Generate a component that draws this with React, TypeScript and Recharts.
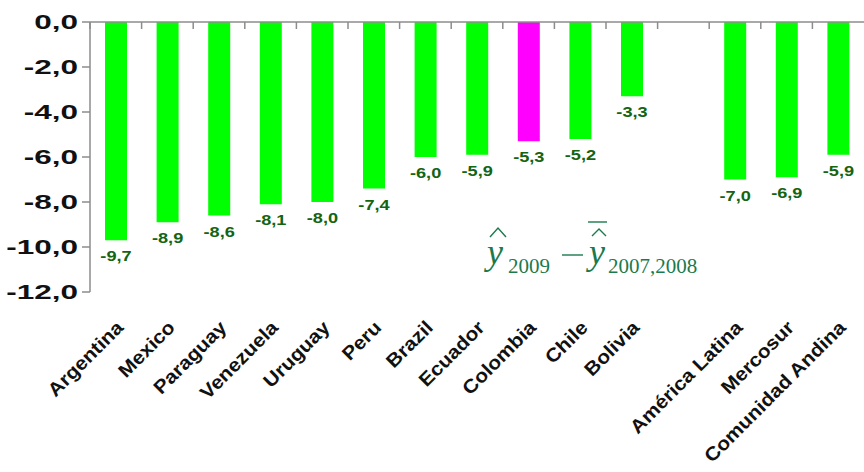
import { BarChart, Bar, XAxis, YAxis, Cell, LabelList } from 'recharts';

const categories = [
  'Argentina', 'Mexico', 'Paraguay', 'Venezuela', 'Uruguay', 'Peru', 'Brazil', 'Ecuador',
  'Colombia', 'Chile', 'Bolivia', '', 'América Latina', 'Mercosur', 'Comunidad Andina',
];
const values = [-9.7, -8.9, -8.6, -8.1, -8.0, -7.4, -6.0, -5.9, -5.3, -5.2, -3.3, null, -7.0, -6.9, -5.9];
const highlighted = 'Colombia';
const yTicks = [0, -2, -4, -6, -8, -10, -12];

const data = categories.map((name, i) => ({ name, value: values[i] }));

const WIDTH = 864;
const HEIGHT = 472;
const Y_AXIS_W = 90;
const BAND = (WIDTH - Y_AXIS_W) / categories.length;

const GREEN = '#00ff00';
const MAGENTA = '#ff00ff';
const LABEL_GREEN = '#136413';
const AXIS_GREY = '#8c8c8c';
const FORMULA = '#1b7a4c';

const fmt = (v: number) => v.toFixed(1).replace('.', ',');

const YTick = ({ x, y, payload }: any) => (
  <text
    transform={`translate(${x},${y}) scale(1.5,1)`}
    textAnchor="end"
    dominantBaseline="central"
    fontFamily="Liberation Sans, Arial, sans-serif"
    fontWeight="bold"
    fontSize={21}
    fill="#111"
  >
    {fmt(payload.value)}
  </text>
);

const CatTick = ({ x, y, payload }: any) => (
  <text
    transform={`translate(${x + 4},${y + 32}) rotate(-45) scale(1.1,1)`}
    textAnchor="end"
    dominantBaseline="central"
    fontFamily="Liberation Sans, Arial, sans-serif"
    fontWeight="bold"
    fontSize={19}
    fill="#111"
  >
    {payload.value}
  </text>
);

// ticks between categories, hanging down from the zero line
const BoundaryTick = ({ x, y }: any) => (
  <line x1={x - BAND / 2} y1={y} x2={x - BAND / 2} y2={y + 7} stroke={AXIS_GREY} strokeWidth={1.5} />
);

const ValueLabel = ({ x, y, width, height, value }: any) => {
  if (value == null) return null;
  const bottom = Math.max(y, y + height);
  return (
    <text
      transform={`translate(${x + width / 2},${bottom + 21}) scale(1.3,1)`}
      textAnchor="middle"
      fontFamily="Liberation Sans, Arial, sans-serif"
      fontWeight="bold"
      fontSize={14}
      fill={LABEL_GREEN}
    >
      {fmt(value)}
    </text>
  );
};

function Formula() {
  const serif = 'Liberation Serif, Times New Roman, serif';
  return (
    <svg width={WIDTH} height={HEIGHT} style={{ position: 'absolute', left: 0, top: 0, pointerEvents: 'none' }}>
      <g fill={FORMULA} fontFamily={serif}>
        <text x={487} y={264} fontSize={36} fontStyle="italic">y</text>
        <text x={508} y={273} fontSize={21}>2009</text>
        <text x={589} y={264} fontSize={36} fontStyle="italic">y</text>
        <text x={608} y={273} fontSize={21}>2007,2008</text>
      </g>
      <g stroke={FORMULA} fill="none" strokeWidth={1.4}>
        <polyline points="490,237 498,228 506,237" />
        <line x1={562} y1={255} x2={583} y2={255} />
        <line x1={588} y1={222} x2={607} y2={222} />
        <polyline points="592,236 599,229 606,236" />
      </g>
    </svg>
  );
}

export default function App() {
  return (
    <div style={{ position: 'absolute', left: 0, top: 0, width: WIDTH, height: HEIGHT, background: '#fff' }}>
      <BarChart width={WIDTH} height={HEIGHT} data={data} margin={{ top: 0, right: 0, bottom: 0, left: 0 }} barSize={22}>
        <XAxis
          xAxisId="top"
          orientation="top"
          dataKey="name"
          height={22}
          interval={0}
          tickLine={false}
          tickSize={0}
          tickMargin={0}
          axisLine={{ stroke: AXIS_GREY, strokeWidth: 1.5 }}
          tick={<BoundaryTick />}
        />
        <XAxis
          dataKey="name"
          height={180}
          interval={0}
          axisLine={false}
          tickLine={false}
          tickSize={0}
          tickMargin={0}
          tick={<CatTick />}
        />
        <YAxis
          width={Y_AXIS_W}
          domain={[-12, 0]}
          ticks={yTicks}
          interval={0}
          tickSize={8}
          tickMargin={4}
          axisLine={{ stroke: AXIS_GREY, strokeWidth: 1.5 }}
          tickLine={{ stroke: AXIS_GREY, strokeWidth: 1.5 }}
          tick={<YTick />}
        />
        <Bar dataKey="value" isAnimationActive={false}>
          {data.map((d, i) => (
            <Cell key={`c-${i}`} fill={d.name === highlighted ? MAGENTA : GREEN} />
          ))}
          <LabelList dataKey="value" content={<ValueLabel />} />
        </Bar>
      </BarChart>
      <Formula />
    </div>
  );
}
